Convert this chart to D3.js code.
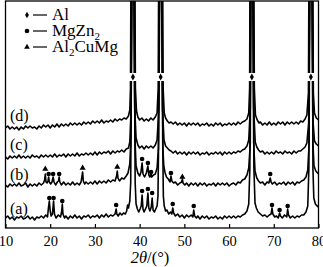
<!DOCTYPE html>
<meta charset="utf-8">
<script src="https://d3js.org/d3.v7.min.js"></script>
<style>
  body { margin: 0; background: #fff; }
  text { font-family: "Liberation Serif", "Times New Roman", serif; fill: #000; }
</style>
<div id="chart"></div>
<script>
// 2theta (deg) vs intensity (arb. units, stacked)
var curveA = [[10,10],[10.5,12],[11,9],[11.5,11],[12,8],[12.5,11],[13,10],[13.5,12],[14,9],[14.5,10],[15,12],[15.5,9],[16,11],[16.5,8],[17,11],[17.5,10],[18,12],[18.5,10],[19,13],[19.4,11],[19.6,20],[19.8,27],[20,17],[20.2,12],[20.5,14],[20.75,27],[20.95,14],[21.3,10],[21.8,13],[22.3,11],[22.55,16],[22.7,24],[22.85,14],[23.2,10],[23.5,12],[24,9],[24.5,12],[25,10],[25.5,13],[26,10],[26.5,12],[27,9],[27.5,12],[28,11],[28.5,13],[29,10],[29.5,12],[30,11],[30.5,13],[31,10],[31.5,13],[32,11],[32.5,14],[33,11],[33.5,13],[34,12],[34.5,14],[34.75,19],[34.9,14],[35.2,12],[35.6,15],[36,13],[36.4,15],[36.8,14],[37.1,17],[37.3,23],[37.5,20],[37.8,27],[38,45],[38.1,120],[38.2,300],[38.8,300],[38.9,120],[39,45],[39.2,24],[39.5,19],[39.8,16],[40.1,19],[40.35,22],[40.55,33],[40.75,19],[41,16],[41.3,19],[41.6,22],[41.85,35],[42.05,20],[42.3,17],[42.6,21],[42.8,30],[43,18],[43.3,16],[43.6,19],[43.9,22],[44.1,32],[44.25,90],[44.4,300],[45,300],[45.15,90],[45.3,32],[45.5,22],[45.8,17],[46.1,18],[46.5,14],[46.9,16],[47.2,14],[47.4,20],[47.6,15],[48,12],[48.5,14],[49,11],[49.5,13],[50,10],[50.5,13],[51,11],[51.5,13],[51.9,11],[52.1,18],[52.3,12],[52.7,10],[53,12],[53.5,9],[54,12],[54.5,10],[55,12],[55.5,9],[56,11],[56.5,10],[57,12],[57.5,9],[58,11],[58.5,9],[59,12],[59.5,10],[60,12],[60.5,10],[61,12],[61.5,10],[62,12],[62.5,11],[63,13],[63.5,14],[64,17],[64.4,24],[64.65,60],[64.8,300],[65.4,300],[65.55,60],[65.8,25],[66.1,20],[66.5,16],[67,14],[67.5,12],[68,13],[68.5,11],[69,13],[69.4,14],[69.6,20],[69.8,14],[70.2,11],[70.6,12],[71,10],[71.3,15],[71.5,12],[71.9,10],[72.4,13],[72.9,11],[73.1,19],[73.3,13],[73.7,10],[74.2,12],[74.7,10],[75.2,12],[75.7,11],[76.2,13],[76.7,13],[77.2,16],[77.6,22],[77.85,60],[78,300],[78.6,300],[78.75,60],[78.95,30],[79.3,24],[79.7,22],[80,21]];

var curveB = [[10,43],[10.5,41],[11,44],[11.5,42],[12,44],[12.5,42],[13,45],[13.5,42],[14,43],[14.5,45],[15,41],[15.5,44],[16,42],[16.5,44],[17,42],[17.5,45],[18,43],[18.5,45],[18.75,48],[18.9,54],[19.05,46],[19.3,45],[19.5,47],[19.65,51],[19.8,46],[20.1,44],[20.4,46],[20.65,51],[20.85,46],[21.2,43],[21.6,46],[21.85,47],[22,51],[22.15,46],[22.5,43],[23,46],[23.5,43],[24,45],[24.5,43],[25,46],[25.5,43],[26,45],[26.5,43],[26.9,46],[27.1,52],[27.25,56],[27.4,47],[27.7,44],[28,46],[28.5,44],[29,46],[29.5,44],[30,47],[30.5,44],[31,47],[31.5,45],[32,47],[32.5,45],[33,48],[33.5,46],[34,48],[34.5,47],[34.85,52],[35,57],[35.15,50],[35.5,47],[36,50],[36.5,49],[37,52],[37.4,55],[37.8,64],[38.05,90],[38.3,300],[38.7,300],[38.95,90],[39.2,62],[39.6,55],[40,52],[40.3,56],[40.55,65],[40.75,54],[41.1,51],[41.5,55],[41.85,62],[42.05,53],[42.3,51],[42.45,53],[42.55,55],[42.7,51],[43.1,53],[43.5,54],[43.9,60],[44.2,80],[44.5,300],[44.9,300],[45.2,80],[45.4,62],[45.7,55],[46,51],[46.4,49],[46.8,46],[47,52],[47.2,47],[47.6,45],[48,46],[48.5,43],[49,45],[49.4,46],[49.55,49],[49.7,45],[50.1,43],[50.5,45],[51,42],[51.5,45],[52,43],[52.5,45],[53,42],[53.5,45],[54,43],[54.5,45],[55,42],[55.5,44],[56,43],[56.5,45],[57,42],[57.5,45],[58,43],[58.5,45],[59,43],[59.5,45],[60,42],[60.5,44],[61,45],[61.5,43],[62,46],[62.5,45],[63,48],[63.5,49],[64,53],[64.4,60],[64.75,85],[64.9,300],[65.3,300],[65.5,85],[65.8,57],[66.2,50],[66.6,47],[67,45],[67.5,46],[68,43],[68.5,46],[68.9,45],[69.2,50],[69.4,46],[69.7,44],[70.2,46],[70.7,43],[71.2,45],[71.7,44],[72.2,46],[72.7,43],[73.2,46],[73.7,44],[74.2,46],[74.7,43],[75.2,46],[75.7,45],[76.2,47],[76.7,48],[77.2,51],[77.6,58],[77.9,85],[78.1,300],[78.5,300],[78.75,85],[79,62],[79.4,57],[79.8,55],[80,54]];

var curveC = [[10,71],[10.5,69],[11,72],[11.5,70],[12,72],[12.5,70],[13,73],[13.5,70],[14,72],[14.5,70],[15,72],[15.5,70],[16,73],[16.5,71],[17,72],[17.5,70],[18,73],[18.5,71],[19,73],[19.5,71],[20,73],[20.5,71],[21,74],[21.5,71],[22,73],[22.5,72],[23,74],[23.5,71],[24,74],[24.5,72],[25,74],[25.5,72],[26,75],[26.5,72],[27,74],[27.5,73],[28,75],[28.5,73],[29,75],[29.5,73],[30,76],[30.5,73],[31,76],[31.5,74],[32,76],[32.5,75],[33,77],[33.5,74],[34,77],[34.5,75],[35,77],[35.5,76],[36,78],[36.5,76],[37,79],[37.5,80],[37.8,86],[38.1,120],[38.4,300],[38.6,300],[38.9,120],[39.2,90],[39.6,83],[40,80],[40.5,82],[41,79],[41.5,82],[42,80],[42.5,82],[43,80],[43.5,83],[43.9,88],[44.3,120],[44.6,300],[44.8,300],[45.1,120],[45.45,88],[45.8,82],[46.2,80],[46.6,78],[47,77],[47.5,75],[48,77],[48.5,74],[49,76],[49.5,74],[50,76],[50.5,73],[51,76],[51.5,74],[52,76],[52.5,74],[53,76],[53.5,73],[54,75],[54.5,74],[55,76],[55.5,73],[56,75],[56.5,74],[57,76],[57.5,74],[58,76],[58.5,73],[59,76],[59.5,74],[60,76],[60.5,74],[61,76],[61.5,75],[62,77],[62.5,76],[63,78],[63.5,79],[64,82],[64.4,88],[64.75,120],[65,300],[65.2,300],[65.5,120],[65.85,86],[66.2,81],[66.6,78],[67,76],[67.5,77],[68,74],[68.5,76],[69,74],[69.5,76],[70,74],[70.5,77],[71,75],[71.5,76],[72,74],[72.5,77],[73,75],[73.5,76],[74,74],[74.5,77],[75,75],[75.5,77],[76,77],[76.5,79],[77,81],[77.4,85],[77.8,105],[78.2,300],[78.4,300],[78.8,105],[79.1,87],[79.5,84],[80,82]];

var curveD = [[10,100],[10.5,102],[11,99],[11.5,101],[12,99],[12.5,101],[13,98],[13.5,101],[14,99],[14.5,102],[15,100],[15.5,102],[16,100],[16.5,101],[17,99],[17.5,102],[18,100],[18.5,103],[19,101],[19.5,103],[20,100],[20.5,103],[21,101],[21.5,104],[22,101],[22.5,104],[23,102],[23.5,104],[24,102],[24.5,105],[25,103],[25.5,105],[26,103],[26.5,105],[27,103],[27.5,106],[28,104],[28.5,106],[29,104],[29.5,107],[30,105],[30.5,107],[31,105],[31.5,108],[32,105],[32.5,107],[33,106],[33.5,108],[34,106],[34.5,109],[35,107],[35.5,109],[36,108],[36.5,110],[37,109],[37.5,112],[37.8,118],[37.95,140],[38.1,300],[38.9,300],[39.05,140],[39.3,117],[39.6,111],[40,108],[40.5,110],[41,107],[41.5,109],[42,107],[42.5,110],[43,108],[43.5,111],[43.9,115],[44.15,140],[44.3,300],[45.1,300],[45.25,140],[45.5,115],[45.8,110],[46.2,107],[46.6,105],[47,106],[47.5,104],[48,106],[48.5,103],[49,105],[49.5,103],[50,105],[50.5,102],[51,105],[51.5,103],[52,105],[52.5,103],[53,105],[53.5,102],[54,104],[54.5,103],[55,105],[55.5,102],[56,104],[56.5,102],[57,105],[57.5,103],[58,105],[58.5,102],[59,104],[59.5,103],[60,105],[60.5,103],[61,105],[61.5,103],[62,106],[62.5,104],[63,106],[63.5,107],[64,109],[64.4,115],[64.6,140],[64.7,300],[65.5,300],[65.65,140],[65.9,113],[66.3,108],[66.7,105],[67,106],[67.5,103],[68,105],[68.5,103],[69,106],[69.5,103],[70,105],[70.5,103],[71,106],[71.5,104],[72,106],[72.5,103],[73,106],[73.5,104],[74,106],[74.5,104],[75,106],[75.5,104],[76,107],[76.5,106],[77,109],[77.4,113],[77.75,135],[77.9,300],[78.7,300],[78.85,135],[79.1,115],[79.5,110],[80,108]];

var curveLabels = ["(a)", "(b)", "(c)", "(d)"];
var labelLevels = [14, 48, 78, 107];

// phase markers: [2theta, intensity]
var alMarks = [[38.5,151],[44.7,151],[65.1,151],[78.3,151]];
var mgzn2Marks = [[19.8,30],[20.75,30],[22.7,27],[34.75,23],[40.55,37],[41.85,39],[42.8,35],[47.4,24],[52.1,22],[69.6,23],[71.3,18],[73.1,22],
                  [19.65,54],[20.65,54],[22.0,54],[40.55,69],[41.85,65],[42.55,56],[47.0,55],[69.2,54]];
var al2cumgMarks = [[18.9,59],[27.25,60],[35.0,61],[49.55,51]];

var xTicks = [10, 20, 30, 40, 50, 60, 70, 80];

var width = 323, height = 267;
var plotL = 5.5, plotR = 318.5, plotT = 1, plotB = 228;

var svg = d3.select("#chart").append("svg")
    .attr("width", width)
    .attr("height", height);

var x = d3.scaleLinear().domain([10, 80]).range([plotL, plotR]);
var y = d3.scaleLinear().domain([0, 227]).range([plotB, plotT]);

svg.append("clipPath").attr("id", "clip")
  .append("rect").attr("x", plotL).attr("y", plotT).attr("width", plotR - plotL).attr("height", plotB - plotT);

var line = d3.line().x(d => x(d[0])).y(d => y(d[1]));

var g = svg.append("g").attr("clip-path", "url(#clip)");
[curveA, curveB, curveC, curveD].forEach(function(c) {
  g.append("path").datum(c)
    .attr("d", line)
    .attr("fill", "none")
    .attr("stroke", "#000")
    .attr("stroke-width", 1.6)
    .attr("stroke-linejoin", "round");
});

// Al diamonds with white halo
alMarks.forEach(function(d) {
  g.append("rect").attr("x", x(d[0]) - 4).attr("y", y(d[1]) - 4)
    .attr("width", 8).attr("height", 8).attr("fill", "#fff");
});
g.selectAll(".al").data(alMarks).enter().append("path")
  .attr("d", d3.symbol(d3.symbolDiamond, 14))
  .attr("transform", d => "translate(" + x(d[0]) + "," + y(d[1]) + ")");

g.selectAll(".mg").data(mgzn2Marks).enter().append("circle")
  .attr("cx", d => x(d[0])).attr("cy", d => y(d[1])).attr("r", 2.3);

g.selectAll(".tri").data(al2cumgMarks).enter().append("path")
  .attr("d", d3.symbol(d3.symbolTriangle, 16))
  .attr("transform", d => "translate(" + x(d[0]) + "," + y(d[1]) + ")");

// curve labels
svg.selectAll(".lab").data(curveLabels).enter().append("text")
  .attr("x", 10).attr("y", (d, i) => y(labelLevels[i]))
  .attr("font-size", 16).text(d => d);

// frame
svg.append("rect").attr("x", plotL).attr("y", plotT)
  .attr("width", plotR - plotL).attr("height", plotB - plotT)
  .attr("fill", "none").attr("stroke", "#000").attr("stroke-width", 1.3);

// x axis
var xAxis = svg.append("g").attr("transform", "translate(0," + plotB + ")")
  .call(d3.axisBottom(x).tickValues(xTicks).tickSize(-4).tickPadding(8));
xAxis.select(".domain").remove();
xAxis.selectAll("line").attr("stroke-width", 1.2);
xAxis.selectAll("text").attr("font-size", 14.5)
  .attr("font-family", "'Liberation Serif', 'Times New Roman', serif");

var title = svg.append("text").attr("x", 150).attr("y", 263)
  .attr("text-anchor", "middle").attr("font-size", 16.5);
title.append("tspan").attr("font-style", "italic").text("2θ");
title.append("tspan").text("/(°)");

// legend
var lg = svg.append("g");
var rows = [15, 31, 47];
lg.append("path").attr("d", d3.symbol(d3.symbolDiamond, 12)).attr("transform", "translate(27," + rows[0] + ")");
lg.append("circle").attr("cx", 27).attr("cy", rows[1]).attr("r", 2.3);
lg.append("path").attr("d", d3.symbol(d3.symbolTriangle, 14)).attr("transform", "translate(27," + rows[2] + ")");
rows.forEach(function(r) {
  lg.append("line").attr("x1", 33).attr("x2", 47).attr("y1", r).attr("y2", r)
    .attr("stroke", "#000").attr("stroke-width", 1.2);
});
lg.append("text").attr("x", 52).attr("y", rows[0] + 5).attr("font-size", 17).text("Al");
var t2 = lg.append("text").attr("x", 52).attr("y", rows[1] + 5).attr("font-size", 17);
t2.append("tspan").text("MgZn");
t2.append("tspan").attr("font-size", 11).attr("dy", 4).text("2");
var t3 = lg.append("text").attr("x", 52).attr("y", rows[2] + 5).attr("font-size", 17);
t3.append("tspan").text("Al");
t3.append("tspan").attr("font-size", 11).attr("dy", 4).text("2");
t3.append("tspan").attr("dy", -4).text("CuMg");
</script>
